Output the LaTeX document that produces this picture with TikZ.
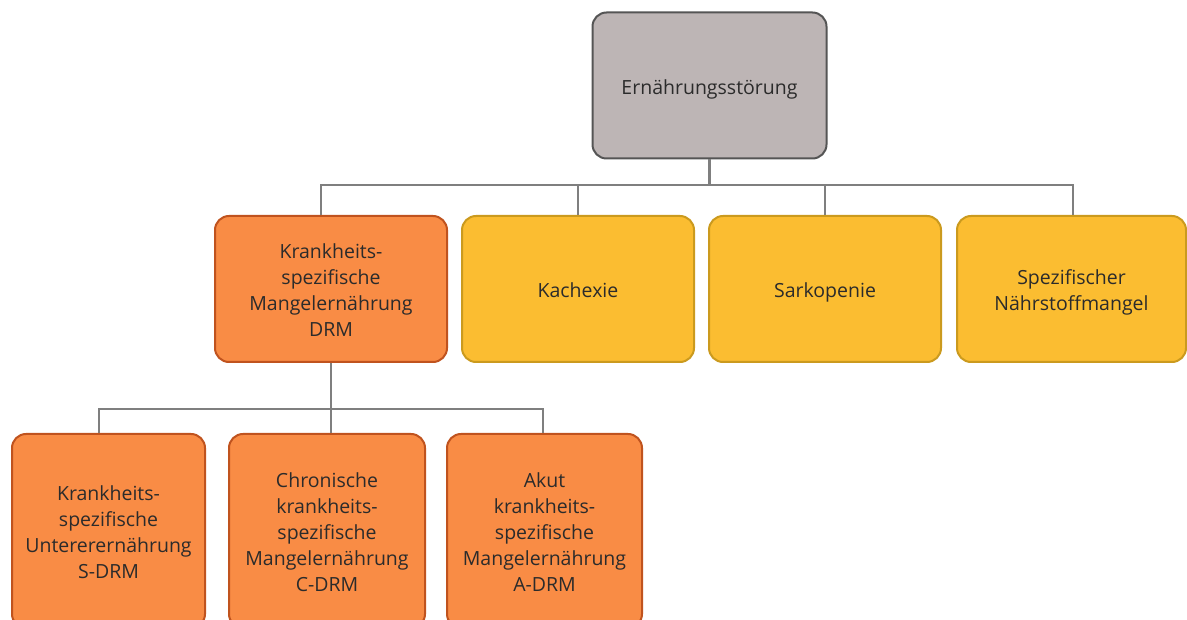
\documentclass[tikz,border=0pt]{standalone}
\usepackage{fontspec}
\setmainfont{Open Sans}
\definecolor{grayfill}{HTML}{BDB5B5}
\definecolor{grayline}{HTML}{555555}
\definecolor{orangefill}{HTML}{F98C45}
\definecolor{orangeline}{HTML}{C0531E}
\definecolor{yellowfill}{HTML}{FBBD31}
\definecolor{yellowline}{HTML}{CB9A1E}
\definecolor{connc}{HTML}{7F7F7F}
\definecolor{txt}{HTML}{2B2B2B}
\newcommand{\tstr}{\rule{0pt}{25.2pt}}
\begin{document}
\begin{tikzpicture}[x=1pt,y=-1pt,
  box/.style={rounded corners=14pt, line width=2pt, align=center, inner sep=0pt,
    text=txt, font=\fontsize{19.5}{26}\selectfont,
    execute at end node=\strut},
  topbox/.style={box, fill=grayfill, draw=grayline},
  obox/.style={box, fill=orangefill, draw=orangeline},
  ybox/.style={box, fill=yellowfill, draw=yellowline},
  conn/.style={draw=connc, line width=2.5pt}]
\clip (0,0) rectangle (1187,620);
\node[topbox, minimum width=234pt, minimum height=146pt] (top) at (709.5,85.5) {\tstr Ernährungsstörung};
\node[obox, minimum width=232pt, minimum height=146pt] (drm) at (331,289) {\tstr Krankheits-\\spezifische\\Mangelernährung\\DRM};
\node[ybox, minimum width=232pt, minimum height=146pt] (kach) at (578,289) {\tstr Kachexie};
\node[ybox, minimum width=232pt, minimum height=146pt] (sark) at (825,289) {\tstr Sarkopenie};
\node[ybox, minimum width=229pt, minimum height=146pt] (spez) at (1071.5,289) {\tstr Spezifischer\\Nährstoffmangel};
\node[obox, minimum width=193pt, minimum height=194pt] (sdrm) at (108.5,531) {\tstr Krankheits-\\spezifische\\Untererernährung\\S-DRM};
\node[obox, minimum width=196pt, minimum height=194pt] (cdrm) at (327,531) {\tstr Chronische\\krankheits-\\spezifische\\Mangelernährung\\C-DRM};
\node[obox, minimum width=195pt, minimum height=194pt] (adrm) at (544.5,531) {\tstr Akut\\krankheits-\\spezifische\\Mangelernährung\\A-DRM};
% level 1 connectors
\draw[conn] (top.south) -- ++(0,26.5);
\draw[conn] ([xshift=-10pt]drm.north) -- ++(0,-30) -| ([xshift=1.5pt]spez.north);
\draw[conn] (kach.north) -- ++(0,-30);
\draw[conn] (sark.north) -- ++(0,-30);
% level 2 connectors
\draw[conn] (drm.south) -- (drm.south |- cdrm.north);
\draw[conn] ([xshift=-9.5pt]sdrm.north) -- ++(0,-24) -| ([xshift=-1.5pt]adrm.north);
\end{tikzpicture}
\end{document}
